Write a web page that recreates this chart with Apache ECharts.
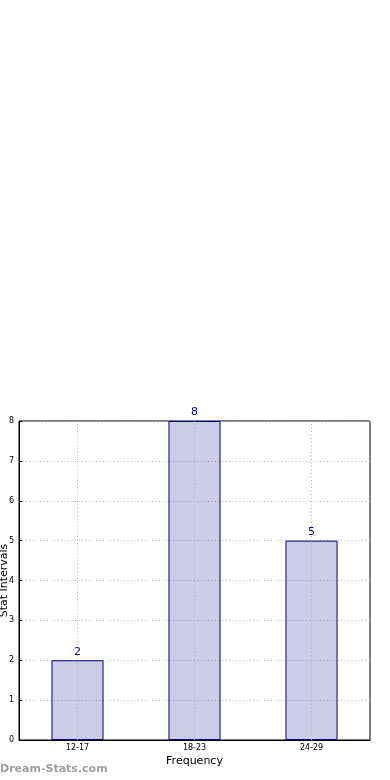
<!DOCTYPE html>
<html><head><meta charset="utf-8">
<script src="https://cdn.jsdelivr.net/npm/echarts@6/dist/echarts.min.js"></script>
<style>html,body{margin:0;padding:0;background:#fff}#c{width:390px;height:780px}</style>
</head><body><div id="c"></div>
<script>
const categories = ["12-17", "18-23", "24-29"];
const values = [2, 8, 5];
const yTicks = [0, 1, 2, 3, 4, 5, 6, 7, 8];

const dotted = { color: '#b0b0b0', type: [1, 2.5], width: 1 };
const chart = echarts.init(document.getElementById('c'));
chart.setOption({
  animation: false,
  grid: { left: 19, right: 20, top: 421, bottom: 40, containLabel: false, outerBoundsMode: 'none',
    show: true, borderColor: '#000', borderWidth: 1, backgroundColor: 'transparent' },
  xAxis: {
    type: 'category', data: categories,
    name: 'Frequency', nameLocation: 'middle', nameGap: 16,
    nameTextStyle: { fontSize: 11, color: '#000', fontFamily: 'DejaVu Sans' },
    axisLine: { lineStyle: { color: '#000' } },
    axisTick: { show: false },
    axisLabel: { fontSize: 8, color: '#000', margin: 4, fontFamily: 'DejaVu Sans' },
    splitLine: { show: false }
  },
  yAxis: {
    type: 'value', min: 0, max: 8, interval: 1,
    name: 'Stat Intervals', nameLocation: 'middle', nameGap: 9, nameMoveOverlap: false,
    nameTextStyle: { fontSize: 11, color: '#000', fontFamily: 'DejaVu Sans' },
    axisLine: { show: true, lineStyle: { color: '#000' } },
    axisTick: { show: true, inside: true, length: 3, lineStyle: { color: '#000' } },
    axisLabel: { fontSize: 8, color: '#000', margin: 5, fontFamily: 'DejaVu Sans',
      formatter: v => yTicks.includes(v) ? String(v) : '' },
    splitLine: { show: true, lineStyle: dotted }
  },
  series: [{
    type: 'bar', data: values, barWidth: '44.5%',
    itemStyle: { color: 'rgba(0,0,128,0.2)', borderColor: '#000080', borderWidth: 1 },
    label: { show: true, position: 'top', distance: 3, color: '#000080', fontSize: 11, fontFamily: 'DejaVu Sans' },
    markLine: {
      silent: true, symbol: 'none', label: { show: false },
      lineStyle: dotted,
      data: categories.map(c => ({ xAxis: c }))
    }
  }],
  graphic: [{
    type: 'text', left: 0, top: 764,
    style: { text: 'Dream-Stats.com', fill: '#a0a0a0', font: 'bold 11px "DejaVu Sans"' }
  }]
});
</script></body></html>
